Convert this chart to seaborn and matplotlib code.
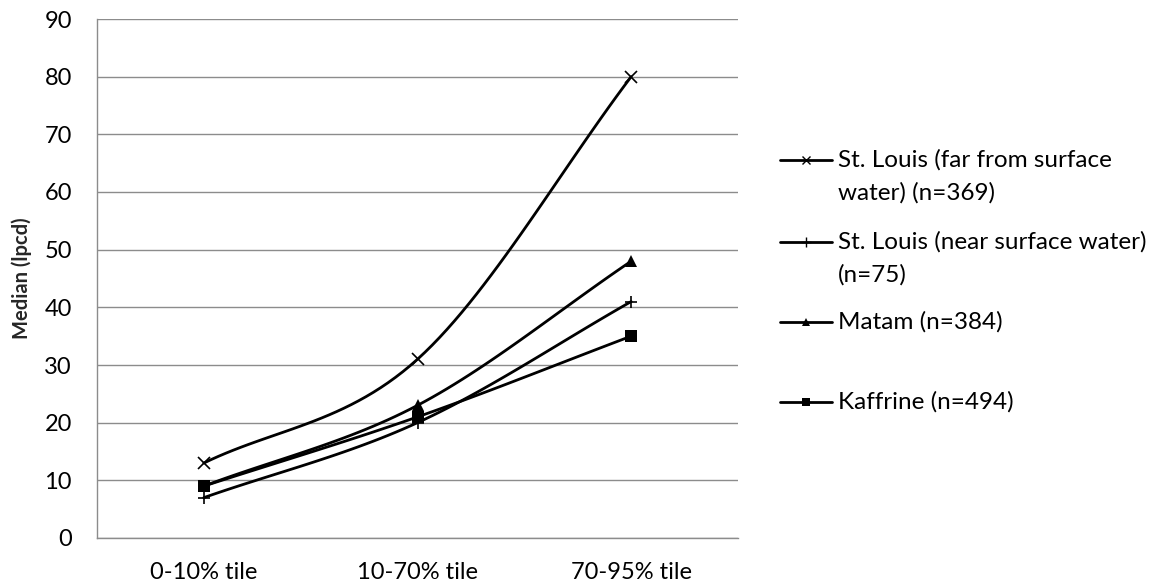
import numpy as np
import pandas as pd
import matplotlib
matplotlib.use("Agg")
import matplotlib.pyplot as plt
import seaborn as sns
from matplotlib.lines import Line2D

categories = ["0-10% tile", "10-70% tile", "70-95% tile"]
series_names = ["St. Louis (far from surface\nwater) (n=369)",
                "St. Louis (near surface water)\n(n=75)",
                "Matam (n=384)",
                "Kaffrine (n=494)"]
far_values = [13, 31, 80]
near_values = [7, 20, 41]
matam_values = [9, 23, 48]
kaffrine_values = [9, 21, 35]
markers = ["x", "+", "^", "s"]
marker_sizes = [8, 9, 8, 8]

sns.set_theme(style="white")
plt.rcParams['font.family'] = ['Lato', 'DejaVu Sans']

W, H = 1159, 585
fig = plt.figure(figsize=(W/100, H/100), dpi=100)
ax = fig.add_axes([97/W, 47/H, (738-97)/W, (538-19)/H])

all_vals = [far_values, near_values, matam_values, kaffrine_values]


def smooth(xs, ys, n=30):
    # Catmull-Rom style smoothing (like Excel smoothed lines)
    xs = np.asarray(xs, float); ys = np.asarray(ys, float)
    px = np.concatenate([[2*xs[0]-xs[1]], xs, [2*xs[-1]-xs[-2]]])
    py = np.concatenate([[2*ys[0]-ys[1]], ys, [2*ys[-1]-ys[-2]]])
    ox, oy = [], []
    for i in range(1, len(px)-2):
        p0, p1, p2, p3 = (np.array([px[j], py[j]]) for j in range(i-1, i+3))
        c1 = p1 + (p2 - p0) / 6
        c2 = p2 - (p3 - p1) / 6
        t = np.linspace(0, 1, n)[:, None]
        b = (1-t)**3*p1 + 3*(1-t)**2*t*c1 + 3*(1-t)*t**2*c2 + t**3*p2
        ox.extend(b[:, 0]); oy.extend(b[:, 1])
    return np.array(ox), np.array(oy)

xpos = np.arange(len(categories))
for name, vals, m, ms in zip(series_names, all_vals, markers, marker_sizes):
    sx, sy = smooth(xpos, vals)
    sns.lineplot(x=sx, y=sy, ax=ax, color="black", linewidth=2, sort=False,
                 estimator=None)
    df = pd.DataFrame({"x": xpos, "y": vals})
    mew = 1.2 if m in ("x", "+") else 0
    ax.plot(df["x"], df["y"], linestyle="none", marker=m, color="black",
            markersize=ms, markeredgewidth=mew, zorder=5)

ax.set_xlim(-0.5, 2.5)
ax.set_ylim(0, 90)
ax.set_yticks(np.arange(0, 91, 10))
ax.set_xticks(xpos)
ax.set_xticklabels(categories)
ax.yaxis.grid(True, color="#8c8c8c", linewidth=1)
ax.xaxis.grid(False)
ax.set_axisbelow(True)
for s in ["top", "right"]:
    ax.spines[s].set_visible(False)
for s in ["left", "bottom"]:
    ax.spines[s].set_color("#8c8c8c")
    ax.spines[s].set_linewidth(1)
ax.tick_params(axis="y", labelsize=17, pad=18, length=0, colors="black")
ax.tick_params(axis="x", labelsize=17, pad=17, length=0, colors="black")
ax.set_ylabel("Median (lpcd)", fontsize=14.5, fontweight="bold", labelpad=9)

# manual legend laid out like the reference (handle aligned with first text line)
legend_rows = [160, 242, 322, 402]
line_gap = 33
for name, m, ms, y in zip(series_names, markers, marker_sizes, legend_rows):
    yf = 1 - y/H
    mew = 1.0 if m in ("x", "+") else 0
    fig.add_artist(Line2D([780/W, 832/W], [yf, yf], color="black", lw=2,
                          transform=fig.transFigure))
    fig.add_artist(Line2D([806/W], [yf], color="black", marker=m,
                          markersize=ms*0.75, markeredgewidth=mew,
                          linestyle="none", transform=fig.transFigure))
    for k, line in enumerate(name.split("\n")):
        fig.text(838/W, 1 - (y + k*line_gap)/H, line, fontsize=17.5,
                 ha="left", va="center", color="black")

fig.savefig("out.png", dpi=100)
